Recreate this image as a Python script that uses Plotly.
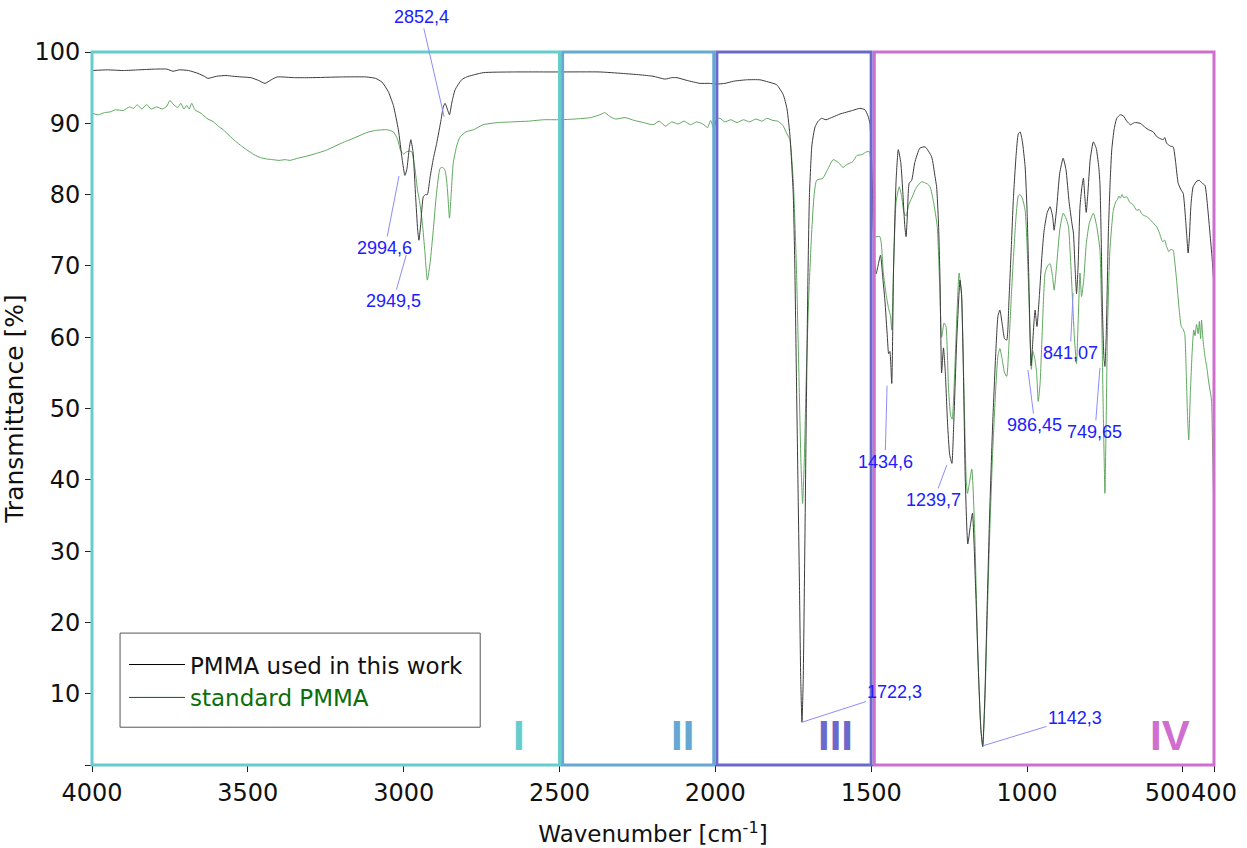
import plotly.graph_objects as go

# ---------------- data ----------------
black_wn = [4000, 3950, 3900, 3850, 3800, 3760, 3740, 3720, 3690, 3660, 3640, 3628, 3600, 3570, 3548,
            3520, 3490, 3465, 3445, 3425, 3406, 3350, 3300, 3200, 3120, 3090, 3070, 3050, 3033, 3017,
            3005, 2996, 2990, 2982, 2977, 2970, 2962, 2955, 2951, 2945, 2937, 2930, 2924, 2915, 2905,
            2894, 2880, 2873, 2867, 2860, 2853, 2845, 2835, 2814, 2798, 2745, 2650, 2500, 2370, 2300,
            2242, 2200, 2161, 2140, 2123, 2090, 2049, 2020, 1996, 1969, 1942, 1900, 1857, 1830, 1803,
            1782, 1770, 1760, 1750, 1745, 1740, 1735, 1730, 1726, 1722, 1718, 1713, 1708, 1703, 1698,
            1690, 1680, 1670, 1659, 1645, 1622, 1600, 1560, 1536, 1520, 1510, 1504, 1498, 1493, 1488,
            1484, 1478, 1470, 1462, 1456, 1448, 1444, 1440, 1434, 1428, 1420, 1413, 1405, 1398, 1392,
            1388, 1384, 1378, 1370, 1360, 1344, 1327, 1306, 1295, 1290, 1284, 1279, 1274, 1268, 1262,
            1255, 1248, 1241, 1235, 1225, 1215, 1210, 1204, 1198, 1190, 1182, 1175, 1165, 1155, 1148,
            1142, 1135, 1128, 1120, 1110, 1100, 1093, 1087, 1080, 1072, 1065, 1058, 1050, 1044, 1035,
            1028, 1022, 1015, 1006, 1000, 995, 990, 987, 982, 977, 974, 968, 960, 952, 945,
            935, 926, 918, 913, 905, 895, 884, 875, 865, 856, 851, 846, 841, 836, 830,
            824, 819, 815, 810, 805, 797, 787, 778, 770, 766, 762, 758, 753, 750, 746,
            742, 739, 733, 728, 720, 712, 701, 690, 680, 668, 655, 637, 620, 610, 595,
            585, 575, 563, 558, 552, 540, 531, 523, 515, 505, 499, 492, 487, 483, 479,
            474, 467, 455, 447, 438, 429, 420, 413, 406, 400]
black_T = [97.4, 97.5, 97.4, 97.5, 97.6, 97.6, 97.3, 97.5, 97.4, 97.0, 96.6, 96.3, 96.6, 96.7, 96.6,
           96.5, 96.4, 96.0, 95.6, 96.1, 96.5, 96.4, 96.4, 96.5, 96.5, 96.3, 95.8, 94.5, 92.5, 89.1,
           85.0, 82.7, 83.5, 86.5, 87.7, 86.0, 80.0, 75.0, 73.6, 76.0, 79.7, 80.0, 80.0, 82.5, 85.0,
           87.2, 90.5, 92.3, 92.8, 92.0, 91.2, 93.0, 94.7, 96.1, 96.5, 97.1, 97.2, 97.2, 97.2, 97.0,
           96.8, 96.6, 96.2, 96.4, 96.4, 96.0, 95.6, 95.6, 95.5, 95.6, 95.9, 96.1, 96.1, 95.8, 95.4,
           94.0, 92.0, 88.0, 80.0, 70.0, 55.0, 40.0, 25.0, 12.0, 6.0, 12.0, 30.0, 50.0, 68.0, 80.0,
           87.0, 89.5, 90.3, 90.7, 90.5, 90.9, 91.3, 91.8, 92.1, 91.9, 91.0, 90.0, 84.0, 76.0, 70.0,
           68.9, 70.0, 71.5, 68.0, 65.2, 60.0, 57.7, 58.0, 53.5, 70.0, 82.0, 86.3, 84.5, 80.0, 75.5,
           74.1, 77.0, 81.6, 82.0, 84.5, 86.5, 86.7, 85.3, 82.5, 81.1, 76.0, 68.0, 55.0, 58.5, 55.0,
           48.0, 43.5, 42.3, 48.0, 60.0, 68.0, 66.0, 55.0, 40.0, 31.0, 33.5, 35.3, 25.0, 12.0, 5.0,
           2.6, 10.0, 22.0, 35.0, 48.0, 58.0, 63.0, 63.8, 62.0, 59.8, 59.6, 65.0, 73.0, 79.2, 85.5,
           88.5, 88.8, 87.5, 83.9, 78.0, 69.9, 60.0, 56.0, 59.0, 62.5, 63.8, 61.5, 66.0, 71.5, 75.0,
           77.5, 78.3, 77.0, 75.0, 78.0, 83.0, 85.1, 83.5, 79.0, 76.0, 74.6, 70.0, 66.1, 70.0, 78.3,
           81.0, 82.3, 80.0, 77.5, 80.0, 85.0, 87.4, 86.5, 84.0, 81.6, 74.0, 64.0, 57.0, 55.9, 60.0,
           68.0, 74.6, 82.0, 86.3, 89.3, 90.7, 91.2, 91.0, 90.3, 89.8, 90.1, 90.0, 89.4, 89.1, 88.8,
           88.2, 87.9, 87.7, 88.0, 87.2, 86.8, 86.7, 84.5, 81.6, 80.6, 80.2, 77.0, 74.0, 71.8, 74.0,
           78.5, 81.1, 81.9, 82.0, 81.6, 81.3, 78.0, 74.6, 71.0, 67.0]

green_wn = [4000, 3980, 3960, 3942, 3925, 3900, 3880, 3867, 3855, 3840, 3825, 3810, 3792, 3775, 3760,
            3750, 3738, 3725, 3715, 3705, 3696, 3688, 3680, 3670, 3650, 3632, 3610, 3595, 3579, 3560,
            3540, 3520, 3504, 3480, 3460, 3440, 3420, 3400, 3380, 3365, 3340, 3310, 3279, 3250, 3220,
            3190, 3172, 3140, 3119, 3090, 3054, 3033, 3020, 3010, 3000, 2991, 2980, 2974, 2965, 2955,
            2948, 2940, 2932, 2924, 2915, 2905, 2895, 2883, 2874, 2867, 2860, 2853, 2847, 2841, 2830,
            2819, 2800, 2776, 2745, 2700, 2650, 2600, 2550, 2500, 2450, 2400, 2370, 2355, 2340, 2320,
            2290, 2260, 2230, 2200, 2180, 2160, 2140, 2120, 2100, 2080, 2060, 2040, 2025, 2015, 2005,
            1995, 1985, 1970, 1950, 1930, 1910, 1890, 1870, 1850, 1835, 1815, 1800, 1790, 1782, 1770,
            1761, 1750, 1740, 1732, 1725, 1720, 1715, 1708, 1700, 1691, 1683, 1675, 1655, 1640, 1622,
            1605, 1590, 1579, 1560, 1545, 1530, 1515, 1505, 1500, 1495, 1490, 1472, 1461, 1452, 1444,
            1438, 1434, 1428, 1420, 1410, 1402, 1395, 1388, 1380, 1370, 1355, 1338, 1320, 1311, 1300,
            1288, 1280, 1274, 1266, 1260, 1252, 1245, 1240, 1233, 1225, 1218, 1210, 1202, 1195, 1191,
            1185, 1177, 1168, 1158, 1148, 1142, 1135, 1128, 1120, 1110, 1100, 1093, 1087, 1080, 1072,
            1065, 1058, 1050, 1044, 1035, 1028, 1022, 1015, 1006, 1000, 995, 990, 986, 981, 975,
            969, 964, 958, 950, 942, 934, 926, 918, 913, 905, 895, 884, 876, 867, 861,
            856, 848, 843, 841, 836, 830, 825, 818, 810, 800, 787, 776, 766, 760, 756,
            752, 750, 746, 742, 734, 723, 715, 710, 705, 701, 695, 690, 680, 670, 660,
            648, 640, 630, 616, 605, 595, 584, 575, 565, 558, 552, 545, 540, 531, 527,
            520, 512, 505, 500, 494, 489, 485, 481, 476, 470, 465, 461, 456, 451, 447,
            443, 440, 436, 433, 428, 423, 418, 413, 408, 404, 400]
green_T = [91.4, 91.2, 91.5, 91.6, 91.9, 91.8, 92.3, 92.1, 92.6, 92.0, 92.6, 92.0, 92.3, 92.0, 92.4,
           93.2, 92.6, 92.2, 92.8, 92.0, 92.5, 92.0, 92.8, 91.9, 91.4, 90.7, 90.2, 89.6, 89.1, 88.3,
           87.5, 86.8, 86.3, 85.6, 85.2, 85.0, 84.9, 84.8, 84.9, 84.8, 85.1, 85.4, 85.8, 86.2, 86.8,
           87.4, 87.7, 88.3, 88.7, 89.0, 89.1, 88.8, 87.8, 86.2, 85.7, 86.0, 86.1, 86.0, 84.0, 80.5,
           78.8, 76.0, 72.0, 68.0, 70.5, 75.0, 80.0, 83.7, 83.8, 83.4, 81.0, 76.7, 80.5, 84.4, 86.8,
           88.1, 88.8, 89.1, 89.8, 90.1, 90.2, 90.3, 90.5, 90.5, 90.6, 90.8, 91.2, 91.5, 91.0, 90.6,
           90.8, 90.4, 90.1, 89.8, 90.3, 89.6, 90.2, 89.9, 90.3, 89.8, 90.2, 89.9, 89.4, 90.4, 89.3,
           90.6, 90.7, 90.2, 90.5, 90.1, 90.5, 90.2, 90.6, 90.3, 90.7, 90.4, 90.3, 90.0, 89.6, 88.5,
           87.7, 82.0, 70.0, 55.0, 42.0, 36.7, 42.0, 55.0, 66.0, 74.6, 80.0, 82.0, 82.3, 83.5, 84.9,
           84.5, 83.8, 84.2, 84.6, 85.5, 85.6, 86.0, 86.0, 83.0, 77.0, 74.1, 74.1, 69.0, 66.0, 64.0,
           63.0, 61.0, 70.0, 79.0, 81.1, 79.7, 77.5, 77.0, 78.5, 79.5, 81.0, 81.8, 81.5, 81.1, 79.0,
           75.5, 67.0, 60.0, 62.0, 61.5, 53.0, 49.0, 48.5, 54.0, 63.0, 69.0, 66.0, 52.0, 40.0, 38.1,
           39.5, 41.5, 33.0, 16.0, 5.0, 2.6, 9.0, 20.0, 32.0, 44.0, 53.0, 57.5, 58.4, 57.0, 55.0,
           54.5, 59.0, 66.0, 70.8, 77.0, 79.8, 80.0, 79.5, 77.8, 73.0, 67.0, 60.0, 55.5, 58.0, 57.0,
           55.0, 51.0, 53.5, 62.0, 69.0, 70.0, 70.3, 68.5, 66.6, 70.0, 75.0, 77.4, 76.8, 75.5, 71.5,
           67.1, 60.0, 57.0, 56.3, 62.0, 69.0, 65.7, 68.0, 73.0, 76.0, 77.4, 75.5, 72.2, 62.0, 51.2,
           42.0, 38.1, 48.0, 60.5, 72.2, 77.8, 79.0, 79.3, 79.8, 79.5, 80.0, 79.6, 79.7, 78.9, 78.6,
           77.8, 77.9, 77.2, 76.9, 76.5, 76.0, 75.5, 74.6, 73.4, 73.6, 72.7, 72.0, 72.3, 72.2, 71.0,
           68.0, 64.0, 61.5, 61.2, 60.5, 55.0, 49.0, 45.6, 52.0, 58.0, 61.0, 60.2, 61.8, 60.5, 62.2,
           59.8, 62.4, 60.0, 58.7, 57.0, 55.8, 54.0, 52.6, 51.2, 43.0, 34.5]

series_names = ["PMMA used in this work", "standard PMMA"]

x_range = [4000, 400]
x_tick_vals = [4000, 3500, 3000, 2500, 2000, 1500, 1000, 500, 400]
x_tick_text = ["4000", "3500", "3000", "2500", "2000", "1500", "1000",
               "500\u2007\u2007", "400"]
y_tick_vals = [10, 20, 30, 40, 50, 60, 70, 80, 90, 100]

region_names = ["I", "II", "III", "IV"]
region_from = [4000, 2490, 1995, 1490]
region_to = [2500, 2005, 1500, 400]
region_label_wn = [2630, 2104, 1616, 540]

peak_labels = ["2852,4", "2994,6", "2949,5", "1722,3", "1142,3", "1434,6", "1239,7", "986,45", "841,07", "749,65"]

# ---------------- layout / styling ----------------
region_colors = ["#66CCCC", "#66A8D2", "#6A6ACC", "#D06ED0"]
peak_head_wn = [2870, 3015, 2992, 1722, 1141, 1449, 1257, 997, 852, 766]
peak_head_T = [90.9, 82.6, 71.5, 6.0, 2.7, 53.2, 42.1, 55.4, 66.2, 55.7]
peak_ax = [-23, -14, -13, 93, 92, -2, -13, 7, -3, -5]
peak_ay = [-100, 72, 46, -30, -28, 76, 35, 55, 60, 64]


def xfrac(wn):
    return (x_range[0] - wn) / (x_range[0] - x_range[1])


fig = go.Figure()

fig.add_trace(go.Scatter(x=green_wn, y=green_T, mode="lines",
                         line=dict(color="#5FA85F", width=1, shape="spline", smoothing=0.5),
                         showlegend=False, hoverinfo="skip"))
fig.add_trace(go.Scatter(x=black_wn, y=black_T, mode="lines",
                         line=dict(color="#3C3C3C", width=1, shape="spline", smoothing=0.5),
                         showlegend=False, hoverinfo="skip"))
fig.add_trace(go.Scatter(x=[None], y=[None], mode="lines", line=dict(color="#000000", width=1),
                         name=series_names[0]))
fig.add_trace(go.Scatter(x=[None], y=[None], mode="lines", line=dict(color="#006400", width=1),
                         name="<span style='color:#0B6E0B'>" + series_names[1] + "</span>"))

# legend frame
fig.add_shape(type="rect", xref="paper", yref="paper", x0=0.025, x1=0.346, y0=0.053, y1=0.185,
              line=dict(color="#555555", width=1), fillcolor="white", layer="above")

for name, a, b, col, lw in zip(region_names, region_from, region_to, region_colors, region_label_wn):
    fig.add_shape(type="rect", xref="x domain", yref="y domain", x0=xfrac(a), x1=xfrac(b), y0=0, y1=1,
                  line=dict(color=col, width=3), fillcolor="rgba(0,0,0,0)", layer="above")
    fig.add_annotation(x=lw, y=4.1, xref="x", yref="y", text="<b>" + name + "</b>", showarrow=False,
                       font=dict(family="Liberation Sans", size=42, color=col))

for lab, hx, hy, ax, ay in zip(peak_labels, peak_head_wn, peak_head_T, peak_ax, peak_ay):
    fig.add_annotation(x=hx, y=hy, xref="x", yref="y", text=lab, showarrow=True,
                       arrowhead=0, arrowwidth=1, arrowcolor="#8C8CFF", ax=ax, ay=ay,
                       font=dict(family="Liberation Sans", size=18, color="#2020FF"))

fig.update_layout(
    width=1247, height=848,
    margin=dict(l=92, r=33, t=52, b=83, autoexpand=False),
    paper_bgcolor="white", plot_bgcolor="white",
    font=dict(family="DejaVu Sans", size=22, color="#111111"),
    legend=dict(x=0.0285, y=0.171, xanchor="left", yanchor="top",
                bgcolor="rgba(0,0,0,0)", borderwidth=0, itemwidth=56,
                font=dict(family="DejaVu Sans", size=23, color="#111111")),
    xaxis=dict(range=x_range, tickvals=x_tick_vals, ticktext=x_tick_text, tickangle=0,
               automargin=False,
               ticks="outside", ticklen=6, tickcolor="#222", showgrid=False, zeroline=False,
               showline=True, linecolor="#222", linewidth=1,
               tickfont=dict(family="DejaVu Sans", size=24, color="#111"),
               title=dict(text="Wavenumber [cm<sup>-1</sup>]", standoff=20,
                          font=dict(family="DejaVu Sans", size=23, color="#111"))),
    yaxis=dict(range=[0, 100], tickvals=y_tick_vals, automargin=True,
               ticks="outside", ticklen=6, tickcolor="#222", showgrid=False, zeroline=False,
               showline=True, linecolor="#222", linewidth=1,
               minor=dict(tickvals=[0], ticks="outside", ticklen=6, tickcolor="#222", showgrid=False),
               tickfont=dict(family="DejaVu Sans", size=24, color="#111"),
               title=dict(text="Transmittance [%]", standoff=4,
                          font=dict(family="DejaVu Sans", size=25, color="#111"))),
)

fig.write_html("out.html")
